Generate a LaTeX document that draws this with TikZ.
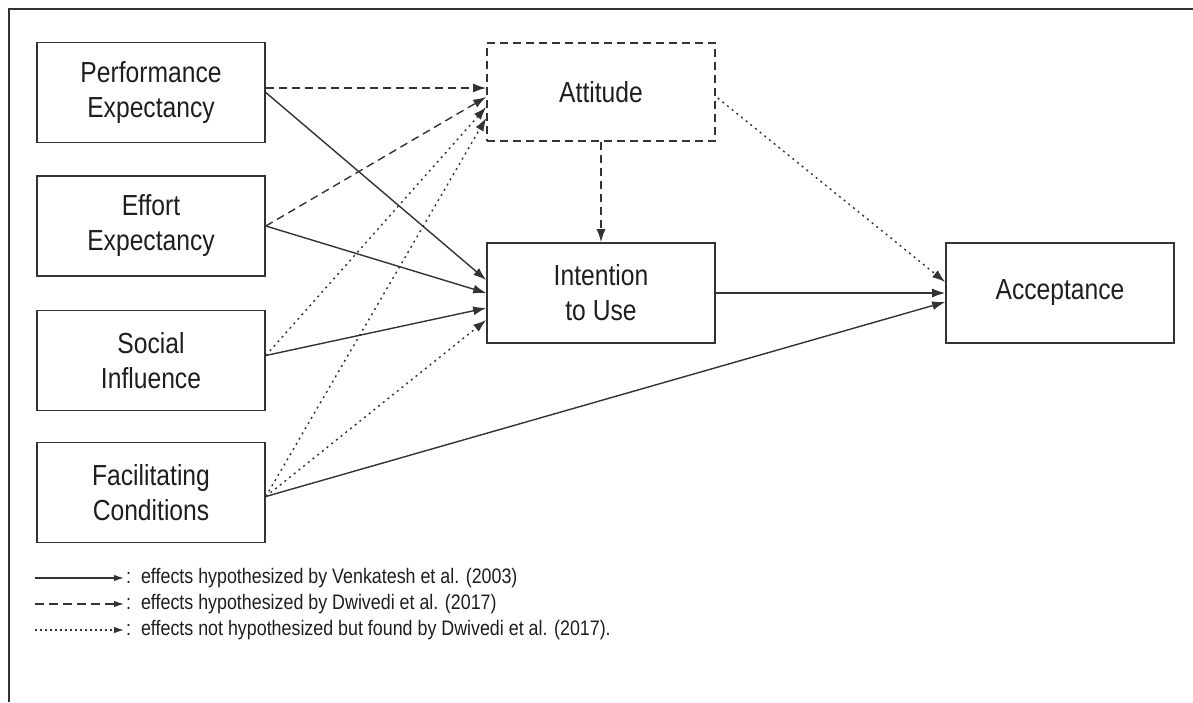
\documentclass[tikz,border=0pt]{standalone}
\usepackage{fontspec}
\setmainfont{Liberation Sans}[FakeStretch=0.85]
\usetikzlibrary{arrows.meta,calc}
\definecolor{ln}{HTML}{333333}
\definecolor{tx}{HTML}{1E1E1E}
\tikzset{
  box/.style={draw=ln,line width=1.6pt,minimum width=228pt,minimum height=100pt,inner sep=0pt,align=center,text=tx,font=\fontsize{29}{35}\selectfont},
  conn/.style={draw=ln,line width=1.4pt,-{Latex[length=13pt,width=9pt]}},
  sol/.style={conn},
  dsh/.style={conn,dash pattern=on 8pt off 5pt},
  dts/.style={conn,dash pattern=on 2pt off 4pt},
  lconn/.style={draw=ln,line width=1.3pt,-{Latex[length=10pt,width=6.5pt]}},
  legtext/.style={anchor=west,inner sep=2pt,text=tx,font=\fontsize{21}{25}\selectfont},
}
\begin{document}
\begin{tikzpicture}[x=1pt,y=-1pt]
\useasboundingbox (0,0) rectangle (1193,702);
\draw[ln,line width=1.8pt] (1193,9) -- (9,9) -- (9,702);

\node[box] (pe) at (151,92.5) {Performance\\Expectancy};
\node[box] (ee) at (151,226) {Effort\\Expectancy};
\node[box] (si) at (151,360.5) {Social\\Influence};
\node[box] (fc) at (151,492.5) {Facilitating\\Conditions};
\node[box,dash pattern=on 8pt off 5pt,minimum height=98pt] (att) at (601,92) {Attitude};
\node[box] (int) at (601,293) {Intention\\to Use};
\node[box] (acc) at (1060,293) {Acceptance};

\draw[dsh] ($(pe.east)+(0,-4.5)$) -- ($(att.west)+(0,-4)$);
\draw[sol] (pe.east) -- ($(int.west)+(0,-13)$);
\draw[dsh] (ee.east) -- ($(att.west)+(0,5)$);
\draw[sol] (ee.east) -- (int.west);
\draw[dts] ($(si.east)+(0,-5)$) -- ($(att.west)+(0,15)$);
\draw[sol] ($(si.east)+(0,-5)$) -- ($(int.west)+(0,15)$);
\draw[dts] ($(fc.east)+(0,4)$) -- ($(att.west)+(0,26)$);
\draw[dts] ($(fc.east)+(0,4)$) -- ($(int.west)+(0,27)$);
\draw[sol] ($(fc.east)+(0,4)$) -- ($(acc.west)+(0,9)$);
\draw[dsh] (att.south) -- (int.north);
\draw[dts] ($(att.east)+(2,6)$) -- ($(acc.west)+(0,-11)$);
\draw[sol] (int.east) -- (acc.west);

\coordinate (l1s) at (35,578);
\coordinate (l2s) at (35,604);
\coordinate (l3s) at (35,630);
\node[legtext] (l1) at (124,578) {:\ \ effects hypothesized by Venkatesh et al. (2003)};
\node[legtext] (l2) at (124,604) {:\ \ effects hypothesized by Dwivedi et al. (2017)};
\node[legtext] (l3) at (124,630) {:\ \ effects not hypothesized but found by Dwivedi et al. (2017).};
\draw[lconn] (l1s) -- (l1.west);
\draw[lconn,dash pattern=on 9pt off 5pt] (l2s) -- (l2.west);
\draw[lconn,dash pattern=on 2pt off 3pt] (l3s) -- (l3.west);
\end{tikzpicture}
\end{document}
